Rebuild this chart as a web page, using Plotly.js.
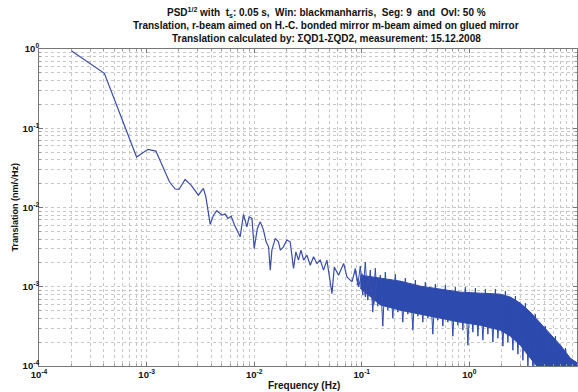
<!DOCTYPE html>
<html><head><meta charset="utf-8">
<script src="https://cdn.plot.ly/plotly-3.0.1.min.js"></script>
<style>html,body{margin:0;padding:0;background:#fff}#c{width:578px;height:392px}</style>
</head><body><div id="c"></div>
<script>
// Low/mid-frequency spectrum (Hz, nm/sqrt(Hz))
var lineFreq = [2.01e-4,4.05e-4,8.07e-4,1.03e-3,1.22e-3,1.63e-3,1.84e-3,2.0e-3,2.28e-3,2.59e-3,3.03e-3,3.37e-3,3.55e-3,3.9e-3,4.18e-3,4.5e-3,5.0e-3,5.37e-3,5.69e-3,6.1e-3,6.56e-3,7.4e-3,7.95e-3,8.55e-3,8.97e-3,9.53e-3,1.0e-2,1.07e-2,1.14e-2,1.22e-2,1.29e-2,1.36e-2,1.41e-2,1.46e-2,1.57e-2,1.68e-2,1.75e-2,1.87e-2,2.01e-2,2.16e-2,2.32e-2,2.44e-2,2.58e-2,2.72e-2,2.88e-2,3.09e-2,3.32e-2,3.56e-2,3.83e-2,4.11e-2,4.41e-2,4.74e-2,5.28e-2,5.55e-2,6.08e-2,6.78e-2,7.28e-2,8.11e-2,8.71e-2,9.33e-2,0.1005,0.108,0.1156,0.129,0.138];
var lineAmp = [0.944,0.493,0.0433,0.0542,0.0515,0.0211,0.0171,0.0169,0.0226,0.0192,0.0143,0.0174,0.0137,0.00612,0.0080,0.0091,0.0080,0.00826,0.00728,0.00778,0.0060,0.00427,0.00818,0.0057,0.00763,0.00728,0.00305,0.00545,0.00659,0.00519,0.00369,0.00319,0.00162,0.0029,0.00407,0.00369,0.0029,0.00319,0.00388,0.00369,0.0017,0.00276,0.00217,0.0029,0.00217,0.0025,0.00187,0.00239,0.00197,0.00217,0.00162,0.00217,0.00082,0.00178,0.0014,0.00197,0.00133,0.00115,0.0017,0.000997,0.00147,0.000746,0.00133,0.000586,0.00121];

// High-frequency dense band: core envelope
var bandFreq = [0.0968,0.1486,0.228,0.3499,0.537,0.8241,1.265,1.941,2.404,2.978,3.69,4.571,5.662,7.014,8.689,10.0];
var bandTop = [1.401e-3,1.284e-3,1.177e-3,1.018e-3,9.33e-4,8.55e-4,8.30e-4,8.06e-4,7.4e-4,6.21e-4,4.78e-4,3.47e-4,2.52e-4,1.83e-4,1.25e-4,1.1e-4];
var bandBottom = [9.6e-4,5.9e-4,5.06e-4,4.51e-4,4.01e-4,3.57e-4,3.27e-4,2.83e-4,2.38e-4,1.83e-4,1.25e-4,8.85e-5,7.0e-5,5.7e-5,5e-5,5e-5];

// Noise spikes riding on the band
var spikeFreq = [0.087,0.0918,0.0968,0.1021,0.1078,0.1137,0.1199,0.1265,0.1335,0.1408,0.1486,0.1568,0.1654,0.1745,0.1841,0.1942,0.2049,0.2162,0.228,0.2405,0.2538,0.2678,0.2825,0.298,0.3144,0.3317,0.3499,0.3691,0.3895,0.4109,0.4335,0.4573,0.4825,0.509,0.537,0.5665,0.5977,0.6306,0.6652,0.7018,0.7404,0.7811,0.8241,0.8694,0.9172,0.9676,1.021,1.077,1.136,1.199,1.265,1.335,1.408,1.485,1.567,1.653,1.744,1.84,1.941,2.048,2.16,2.279,2.404,2.536,2.676,2.823,2.978,3.142,3.315,3.497,3.69,3.893,4.107,4.333,4.571,4.822,5.087,5.367,5.662,5.973,6.302,6.649,7.014,7.4,7.807,8.236,8.689,9.167,9.671,10.0];
var spikeAmp = [1.621e-3,1.047e-3,1.82e-3,7.83e-4,2.045e-3,6.77e-4,1.621e-3,4.78e-4,1.717e-3,5.69e-4,1.401e-3,3.18e-4,1.529e-3,5.06e-4,1.247e-3,4.01e-4,1.442e-3,4.78e-4,1.177e-3,3.57e-4,1.284e-3,4.51e-4,1.11e-3,2.83e-4,1.212e-3,4.25e-4,1.018e-3,3.57e-4,1.143e-3,4.01e-4,9.88e-4,2.52e-4,1.078e-3,3.79e-4,9.33e-4,3.18e-4,1.047e-3,3.57e-4,9.06e-4,2.38e-4,9.88e-4,3.27e-4,8.55e-4,2.83e-4,9.88e-4,1.83e-4,8.30e-4,2.67e-4,9.6e-4,2.38e-4,8.06e-4,2.12e-4,9.33e-4,2.52e-4,8.30e-4,2.0e-4,9.33e-4,2.24e-4,7.83e-4,1.78e-4,8.8e-4,2.0e-4,7.18e-4,1.58e-4,7.61e-4,1.41e-4,6.03e-4,1.18e-4,6.21e-4,9.94e-5,4.78e-4,8.35e-5,4.51e-4,8.85e-5,3.47e-4,7.65e-5,3.18e-4,7.02e-5,2.52e-4,6.62e-5,2.38e-4,6.24e-5,1.83e-4,5.72e-5,1.68e-4,5.25e-5,1.25e-4,4.95e-5,1.15e-4,6.62e-5];

var decades = [1e-4,1e-3,1e-2,1e-1,1,10];
var xTickText = ['10<sup>-4</sup>','10<sup>-3</sup>','10<sup>-2</sup>','10<sup>-1</sup>','10<sup>0</sup>','10<sup>1</sup>'];
var yDecades = [1e-4,1e-3,1e-2,1e-1,1];
var yTickText = ['10<sup>-4</sup>','10<sup>-3</sup>','10<sup>-2</sup>','10<sup>-1</sup>','10<sup>0</sup>'];
var titleLines = [
  'PSD<sup>1/2</sup> with  t<sub>s</sub>: 0.05 s,  Win: blackmanharris,  Seg: 9  and  Ovl: 50 %',
  'Translation, r-beam aimed on H.-C. bonded mirror m-beam aimed on glued mirror',
  'Translation calculated by: \u03A3QD1-\u03A3QD2, measurement: 15.12.2008'
];
var xTitle = 'Frequency (Hz)';
var yTitle = 'Translation (nm/\u221AHz)';

var blue = '#2d4aae';
function minorVals(lo, hi){var v=[];for(var e=lo;e<hi;e++){for(var m=2;m<=9;m++){v.push(m*Math.pow(10,e));}}return v;}

var traces = [
  {x: bandFreq, y: bandTop, mode:'lines', line:{color:blue,width:1}, hoverinfo:'skip', showlegend:false},
  {x: bandFreq, y: bandBottom, mode:'lines', line:{color:blue,width:1}, fill:'tonexty', fillcolor:blue, hoverinfo:'skip', showlegend:false},
  {x: spikeFreq, y: spikeAmp, mode:'lines', line:{color:blue,width:1}, showlegend:false},
  {x: lineFreq, y: lineAmp, mode:'lines', line:{color:'#3a4ea8',width:1.2}, showlegend:false}
];

var FAM = 'Liberation Sans, Arial, sans-serif';
var gridCol = '#c8c8c8';
var tf = {family:FAM, size:9.5, color:'#111', weight:'bold'};
var titleY = [12, 25, 38];
var annotations = titleLines.map(function(t, i){
  return {text:'<b>'+t+'</b>', xref:'paper', yref:'paper', x:(326-39)/538, y:(366-titleY[i])/317,
          xanchor:'center', yanchor:'middle', showarrow:false, font:{family:FAM, size:10, color:'#111'}};
});
annotations.push({text:'<b>'+xTitle+'</b>', xref:'paper', yref:'paper', x:(304-39)/538, y:(366-385)/317,
  xanchor:'center', yanchor:'middle', showarrow:false, font:{family:FAM, size:10, color:'#111'}});
annotations.push({text:'<b>'+yTitle+'</b>', xref:'paper', yref:'paper', x:(14.5-39)/538, y:(366-208)/317, textangle:-90,
  xanchor:'center', yanchor:'middle', showarrow:false, font:{family:FAM, size:9, color:'#111'}});

var layout = {
  width:578, height:392,
  margin:{l:39, r:1, t:49, b:26},
  paper_bgcolor:'#fff', plot_bgcolor:'#fff',
  font:{family:FAM, size:9.5, color:'#111'},
  annotations: annotations,
  xaxis:{type:'log', range:[-4,1], tickmode:'array', tickvals:decades, ticktext:xTickText,
         showline:true, linecolor:'#777', linewidth:1, mirror:'ticks', ticks:'inside', ticklen:4, tickcolor:'#777',
         showgrid:true, gridcolor:gridCol, griddash:'dot', gridwidth:1, zeroline:false,
         minor:{tickmode:'array', tickvals:minorVals(-4,1), ticks:'inside', ticklen:2, tickcolor:'#999', showgrid:true, gridcolor:gridCol, griddash:'dot', gridwidth:1},
         tickfont:tf},
  yaxis:{type:'log', range:[-4,0], tickmode:'array', tickvals:yDecades, ticktext:yTickText,
         showline:true, linecolor:'#777', linewidth:1, mirror:'ticks', ticks:'inside', ticklen:4, tickcolor:'#777',
         showgrid:true, gridcolor:gridCol, griddash:'dot', gridwidth:1, zeroline:false, ticklabelstandoff:-3,
         minor:{tickmode:'array', tickvals:minorVals(-4,0), ticks:'inside', ticklen:2, tickcolor:'#999', showgrid:true, gridcolor:gridCol, griddash:'dot', gridwidth:1},
         tickfont:tf}
};
Plotly.newPlot('c', traces, layout, {displayModeBar:false, staticPlot:true});
</script></body></html>
